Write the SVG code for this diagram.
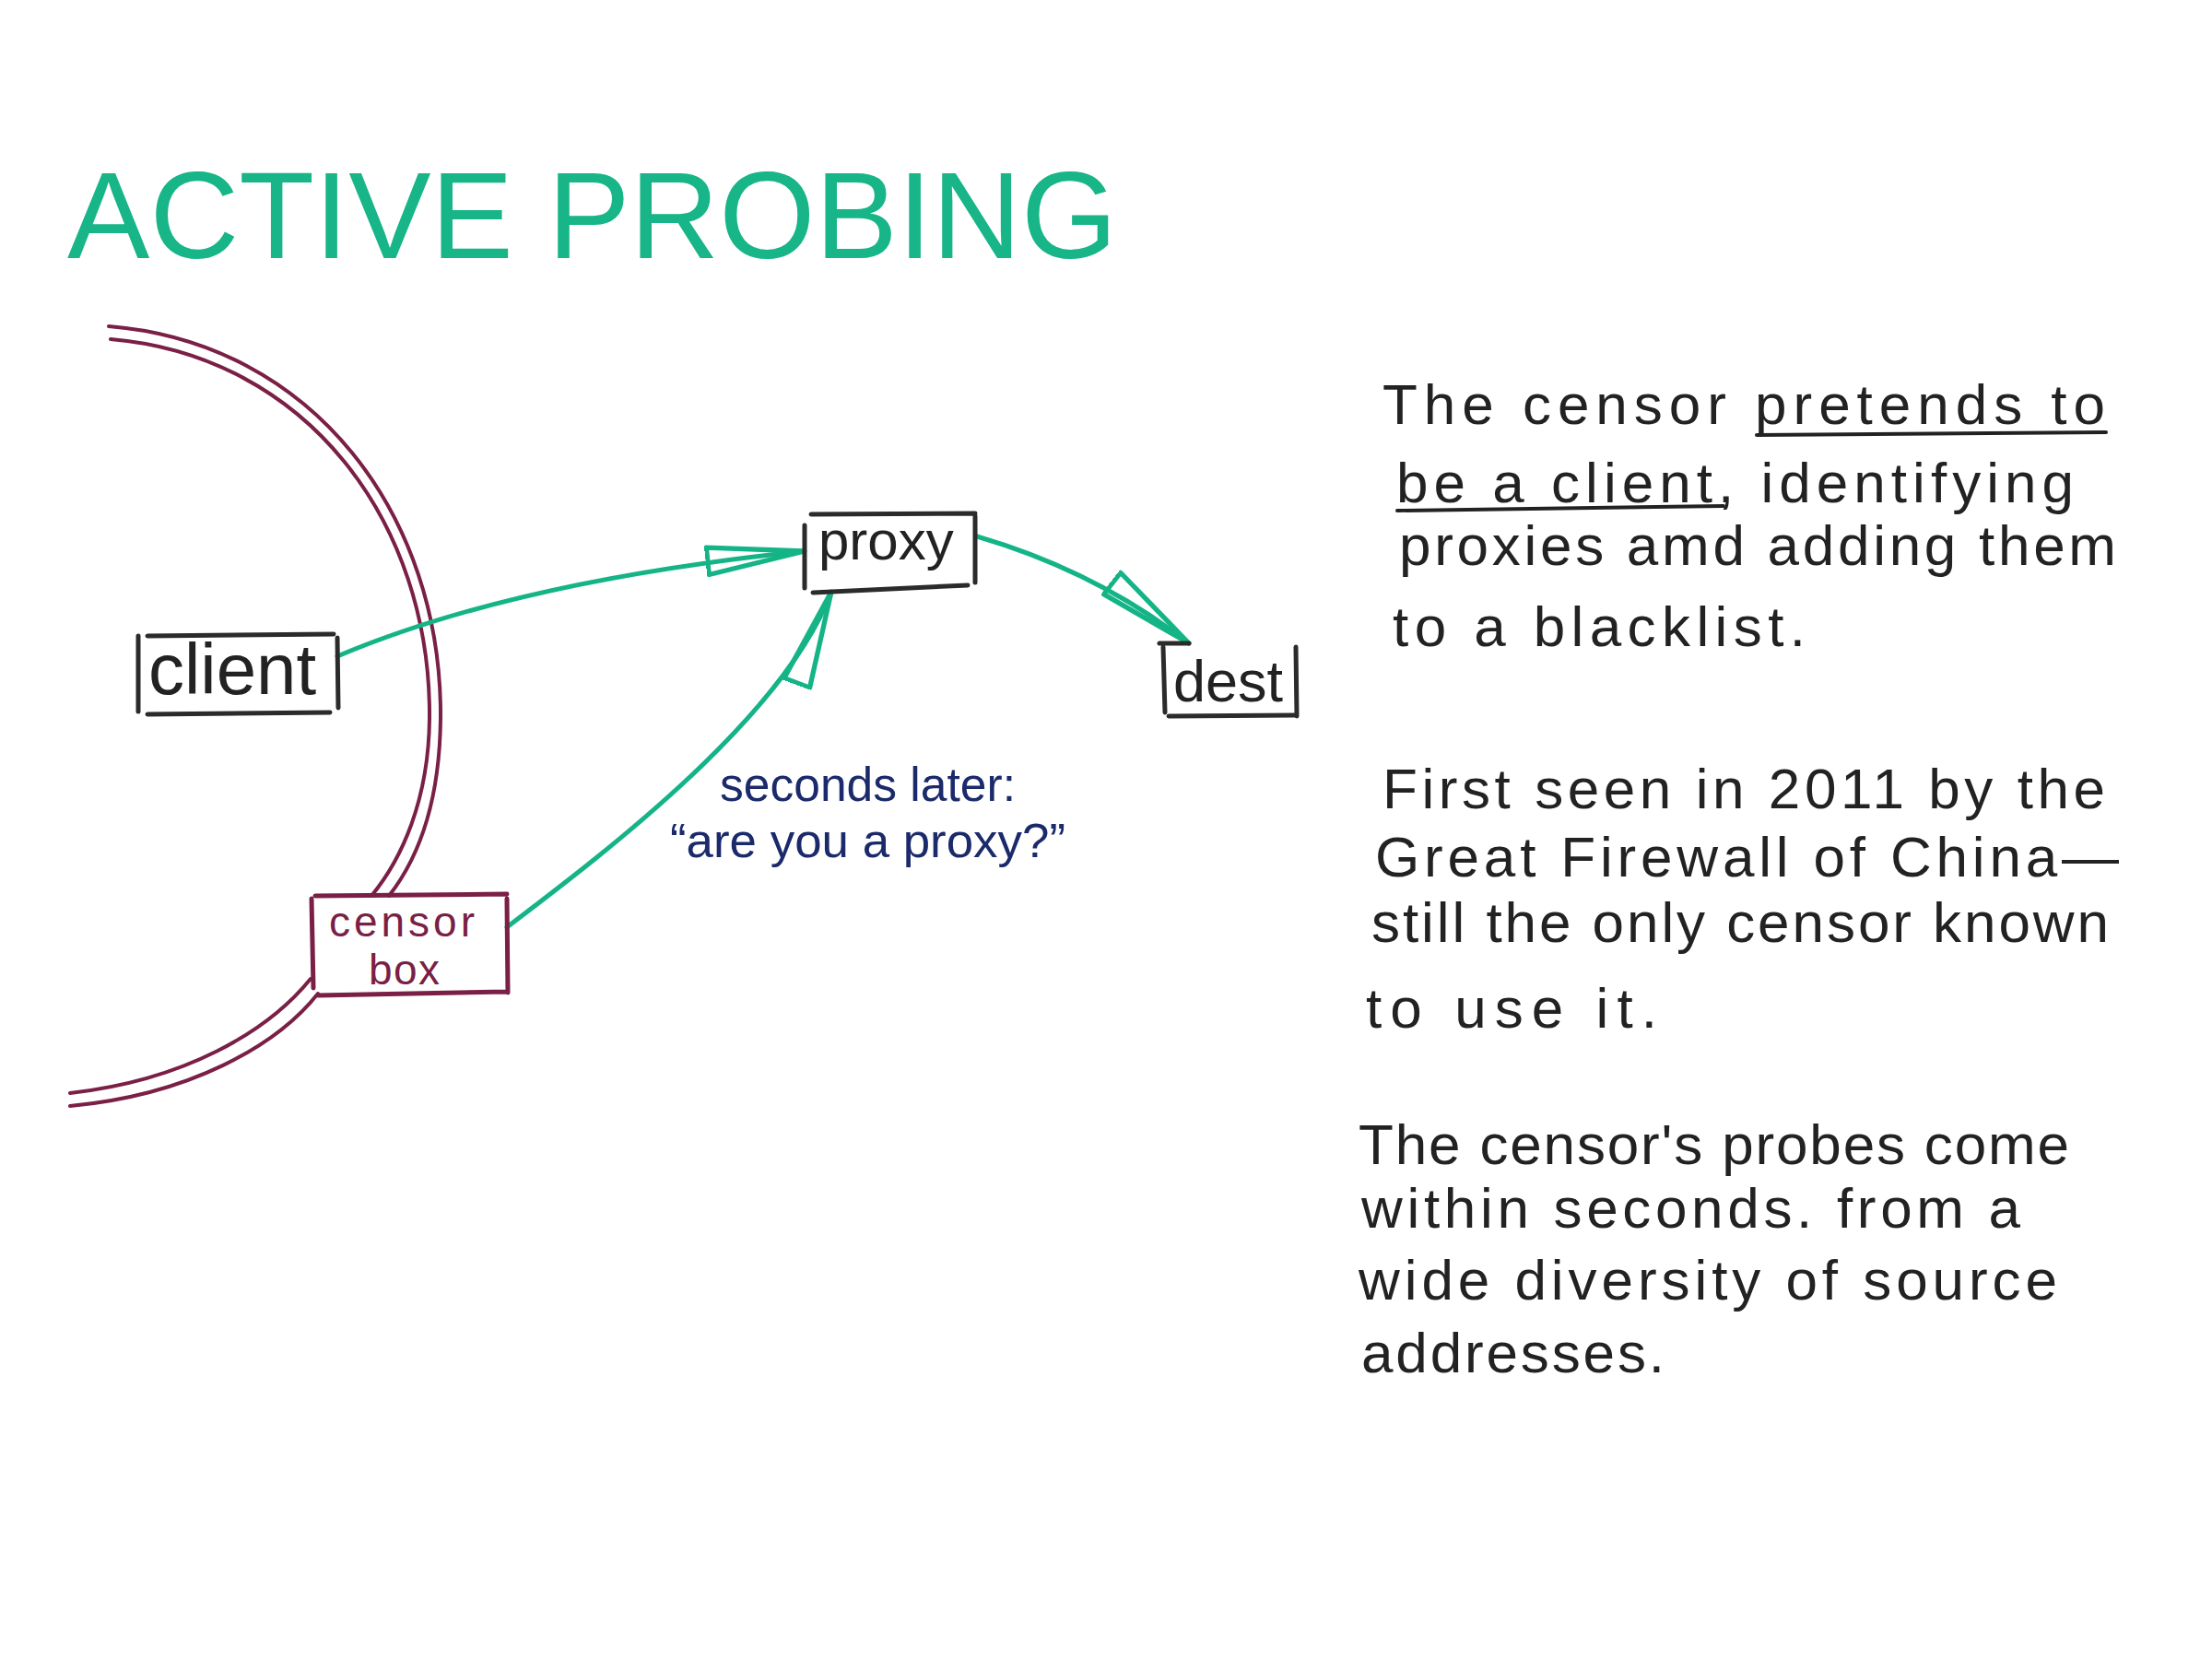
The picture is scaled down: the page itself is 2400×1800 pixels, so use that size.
<svg xmlns="http://www.w3.org/2000/svg" width="2400" height="1800" viewBox="0 0 2400 1800">
<defs>
<style>
.box{fill:none;stroke:#2b2b2b;stroke-width:5;stroke-linecap:round}
.cbox{fill:none;stroke:#7a1f45;stroke-width:5;stroke-linecap:round}
.wall{fill:none;stroke:#7a1f45;stroke-width:4;stroke-linecap:round}
.conn{fill:none;stroke:#14b487;stroke-width:5;stroke-linecap:round}
.lbl{font-family:"Liberation Sans",Arial,sans-serif;fill:#222}
.note{font-family:"Liberation Sans",Arial,sans-serif;fill:#222;font-size:62px}
.probe{font-family:"Liberation Sans",Arial,sans-serif;fill:#1b2a6b;font-size:52px}
.ul{stroke:#222;stroke-width:4;stroke-linecap:round;fill:none}
</style>
<marker id="arr" markerUnits="userSpaceOnUse" markerWidth="110" markerHeight="40" viewBox="-2 -16 104 32" refX="100" refY="0" orient="auto">
<path d="M0,-14 L100,0 L0,14 Z" fill="#fff" fill-opacity="0" stroke="#14b487" stroke-width="5" stroke-linejoin="round"/>
</marker>
</defs>
<rect width="2400" height="1800" fill="#ffffff"/>

<text x="73" y="280" font-family="Liberation Sans, Arial, sans-serif" font-size="134" fill="#17b587">ACTIVE PROBING</text>

<g id="firewall">
<path class="wall" d="M118,354 C340,372 480,560 478,780 C477,870 455,930 422,972"/>
<path class="wall" d="M120,368 C332,386 468,566 466,780 C465,868 436,932 403,972"/>
<path class="wall" d="M337,1062 C290,1120 200,1172 76,1186"/>
<path class="wall" d="M345,1078 C300,1135 205,1188 76,1200"/>
</g>

<g id="connectors">
<path class="conn" d="M366,712 Q560,630 873,598" marker-end="url(#arr)"/>
<path class="conn" d="M1060,582 Q1190,620 1290,698" marker-end="url(#arr)"/>
<path class="conn" d="M550,1006 C650,930 850,780 902,642" marker-end="url(#arr)"/>
</g>

<g id="client">
<path class="box" d="M150,690 L150,772 M160,690 L362,688 M366,692 L367,768 M160,775 L358,773"/>
<text class="lbl" x="161" y="753" font-size="78">client</text>
</g>

<g id="proxy">
<path class="box" d="M873,570 L873,638 M880,558 L1058,557 M1058,560 L1058,632 M882,643 L1050,635"/>
<text class="lbl" x="888" y="607" font-size="60">proxy</text>
</g>

<g id="dest">
<path class="box" d="M1262,702 L1264,773 M1258,698 L1290,698 M1406,702 L1407,777 M1268,777 L1404,776"/>
<text class="lbl" x="1273" y="761" font-size="63">dest</text>
</g>

<g id="censor-box">
<path class="cbox" d="M338,975 L340,1072 M342,972 L550,970 M550,975 L551,1077 M345,1080 L550,1076"/>
<text class="lbl" x="357" y="1016" font-size="46" textLength="158" lengthAdjust="spacing" style="fill:#7a1f45">censor</text>
<text class="lbl" x="400" y="1068" font-size="46" textLength="77" lengthAdjust="spacing" style="fill:#7a1f45">box</text>
</g>

<g id="probe-label">
<text class="probe" x="781" y="869" textLength="321" lengthAdjust="spacingAndGlyphs">seconds later:</text>
<text class="probe" x="727" y="930" textLength="429" lengthAdjust="spacingAndGlyphs">“are you a proxy?”</text>
</g>

<g id="notes">
<text class="note" x="1500" y="460" textLength="784" lengthAdjust="spacing">The censor pretends to</text>
<text class="note" x="1515" y="545" textLength="735" lengthAdjust="spacing">be a client, identifying</text>
<text class="note" x="1518" y="613" textLength="778" lengthAdjust="spacing">proxies amd adding them</text>
<text class="note" x="1511" y="701" textLength="448" lengthAdjust="spacing">to a blacklist.</text>
<path class="ul" d="M1906,472 L2285,469"/>
<path class="ul" d="M1516,554 L1870,549"/>

<text class="note" x="1500" y="877" textLength="784" lengthAdjust="spacing">First seen in 2011 by the</text>
<text class="note" x="1492" y="951" textLength="807" lengthAdjust="spacing">Great Firewall of China—</text>
<text class="note" x="1488" y="1022" textLength="800" lengthAdjust="spacing">still the only censor known</text>
<text class="note" x="1482" y="1115" textLength="316" lengthAdjust="spacing">to use it.</text>

<text class="note" x="1474" y="1263" textLength="771" lengthAdjust="spacing">The censor's probes come</text>
<text class="note" x="1477" y="1332" textLength="715" lengthAdjust="spacing">within seconds. from a</text>
<text class="note" x="1474" y="1410" textLength="758" lengthAdjust="spacing">wide diversity of source</text>
<text class="note" x="1477" y="1489" textLength="329" lengthAdjust="spacing">addresses.</text>
</g>
</svg>
